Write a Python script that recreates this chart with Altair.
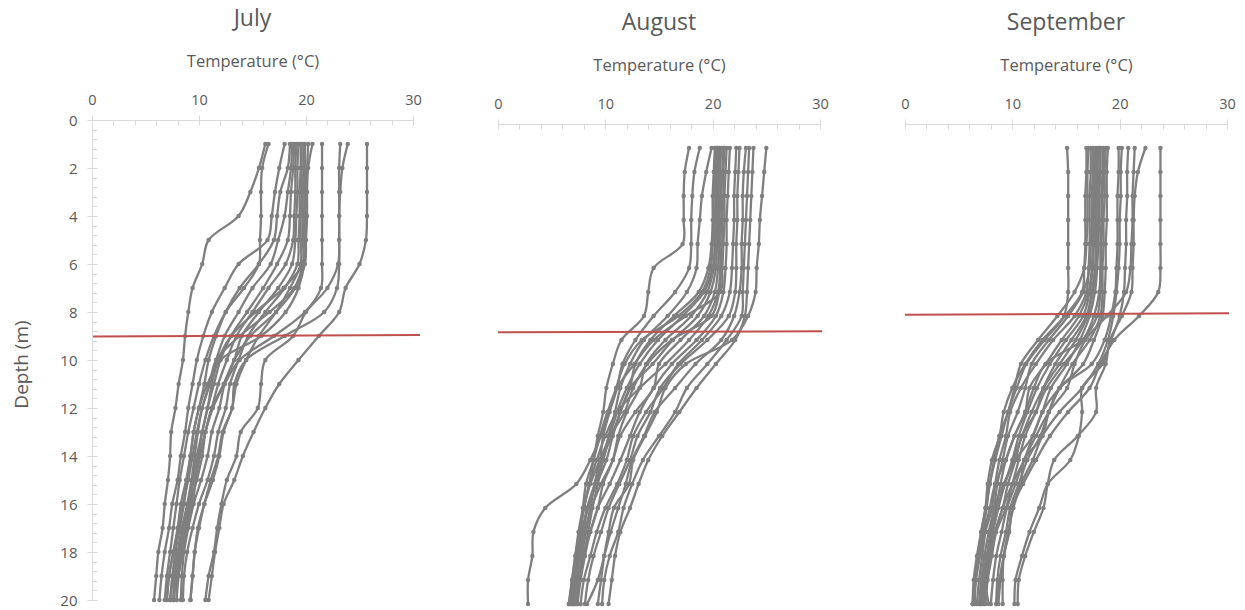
import altair as alt
import pandas as pd

# ---- data -----------------------------------------------------------------
MONTHS = ["July", "August", "September"]
DEPTHS = list(range(1, 21))  # m, one reading per metre

# temperature profiles (deg C) at depths 1..20 m
JULY = [
    [16.2, 15.6, 14.8, 13.7, 10.9, 10.3, 9.4, 9.0, 8.7, 8.5, 8.1, 7.8, 7.4, 7.3, 7.1, 6.8, 6.6, 6.2, 6.0, 5.8],
    [16.5, 15.9, 15.8, 15.8, 15.7, 15.6, 14.2, 12.5, 11.4, 10.6, 10.0, 9.5, 9.0, 8.6, 8.2, 7.9, 7.6, 7.3, 7.0, 6.8],
    [18.0, 17.5, 17.1, 16.8, 16.4, 13.7, 12.4, 11.2, 10.4, 9.8, 9.4, 9.0, 8.7, 8.3, 8.0, 7.5, 7.2, 6.8, 6.5, 6.3],
    [18.5, 18.3, 17.6, 17.3, 17.0, 15.6, 13.8, 12.5, 11.6, 10.9, 10.5, 10.0, 9.5, 9.2, 8.8, 8.3, 8.0, 7.6, 7.2, 7.0],
    [18.7, 18.6, 18.3, 18.0, 17.4, 16.7, 15.0, 13.7, 12.4, 11.6, 11.0, 10.3, 9.9, 9.6, 9.3, 8.9, 8.4, 8.0, 7.6, 7.3],
    [18.9, 18.8, 18.6, 18.5, 18.3, 17.3, 16.0, 14.5, 13.0, 12.0, 11.4, 10.8, 10.3, 9.8, 9.4, 9.2, 8.7, 8.3, 7.9, 7.6],
    [19.1, 19.0, 19.0, 18.9, 18.8, 18.1, 16.5, 15.0, 13.5, 12.6, 11.8, 11.2, 10.6, 10.3, 9.8, 9.2, 8.8, 8.4, 8.0, 7.9],
    [19.3, 19.2, 19.2, 19.1, 19.0, 18.7, 17.4, 15.6, 14.0, 13.3, 12.4, 11.9, 11.2, 10.8, 10.2, 9.5, 9.0, 8.6, 8.4, 8.3],
    [19.5, 19.5, 19.4, 19.4, 19.3, 19.2, 18.0, 16.2, 14.6, 13.7, 12.9, 12.5, 11.8, 11.4, 10.8, 10.0, 9.4, 8.9, 8.6, 8.5],
    [19.6, 19.6, 19.6, 19.5, 19.5, 19.5, 18.5, 17.2, 15.6, 14.4, 13.5, 13.1, 12.3, 11.9, 11.3, 10.5, 9.9, 9.6, 9.4, 9.2],
    [19.8, 19.8, 19.7, 19.7, 19.7, 19.8, 19.3, 18.1, 15.8, 12.0, 10.8, 10.0, 9.5, 9.2, 8.9, 8.6, 8.2, 7.8, 7.5, 7.3],
    [19.9, 19.9, 19.9, 19.8, 19.8, 19.7, 18.9, 16.6, 13.8, 11.6, 11.0, 10.3, 9.8, 9.4, 9.0, 8.5, 8.1, 7.6, 7.2, 7.0],
    [20.2, 20.1, 20.0, 20.0, 19.9, 19.7, 17.9, 15.3, 13.0, 11.8, 11.2, 10.8, 10.3, 9.9, 9.5, 9.1, 8.7, 8.2, 7.9, 7.6],
    [20.6, 20.2, 20.1, 20.1, 20.0, 19.9, 19.0, 17.2, 14.8, 13.3, 12.3, 11.2, 10.6, 10.1, 9.7, 9.4, 8.9, 8.5, 8.1, 7.9],
    [21.5, 21.5, 21.5, 21.5, 21.5, 21.5, 21.4, 19.9, 17.0, 13.8, 12.4, 11.3, 10.6, 10.0, 9.5, 9.0, 8.5, 8.1, 7.7, 7.6],
    [23.2, 23.1, 23.1, 23.1, 23.1, 23.1, 22.9, 21.7, 18.0, 14.4, 13.3, 13.1, 12.2, 11.8, 11.1, 10.5, 10.0, 9.6, 9.4, 9.2],
    [23.9, 23.4, 23.2, 23.1, 23.1, 23.0, 22.0, 20.0, 18.8, 16.2, 15.8, 15.5, 13.9, 13.5, 12.6, 12.1, 11.7, 11.4, 10.9, 10.6],
    [25.7, 25.7, 25.7, 25.7, 25.6, 25.0, 23.7, 23.1, 21.2, 19.3, 17.5, 16.2, 15.1, 14.1, 13.3, 12.3, 11.9, 11.5, 11.2, 10.9],
]

AUGUST = [
    [17.8, 17.4, 17.3, 17.3, 17.2, 14.5, 14.0, 13.6, 11.5, 10.7, 10.1, 9.8, 9.3, 8.9, 8.5, 8.0, 7.6, 7.3, 7.0, 6.8],
    [18.8, 18.3, 18.1, 18.0, 18.0, 17.8, 16.5, 14.5, 12.8, 11.6, 11.1, 10.4, 9.8, 9.5, 9.0, 8.6, 8.1, 7.6, 7.2, 7.0],
    [19.9, 19.4, 19.0, 18.8, 18.6, 18.5, 17.6, 15.8, 13.6, 12.3, 11.4, 10.9, 10.3, 9.8, 9.3, 8.8, 8.4, 8.0, 7.6, 7.3],
    [20.2, 20.1, 20.0, 20.0, 19.9, 19.6, 18.7, 16.4, 14.2, 12.8, 12.3, 11.4, 10.7, 10.1, 9.2, 8.3, 7.9, 7.5, 7.1, 6.9],
    [20.3, 20.2, 20.1, 20.1, 20.0, 19.8, 19.0, 16.8, 13.4, 11.8, 11.0, 10.3, 9.6, 8.6, 7.3, 4.4, 3.3, 3.2, 2.8, 2.8],
    [20.4, 20.3, 20.3, 20.2, 20.2, 20.0, 19.2, 17.2, 14.9, 13.2, 12.0, 11.1, 10.4, 9.5, 8.6, 8.0, 7.6, 7.2, 6.9, 6.6],
    [20.5, 20.5, 20.4, 20.4, 20.3, 20.1, 19.5, 18.0, 15.6, 13.8, 13.2, 12.0, 11.2, 10.7, 9.8, 9.3, 8.6, 7.9, 7.4, 7.1],
    [20.6, 20.6, 20.5, 20.5, 20.4, 20.3, 19.8, 18.6, 16.3, 14.4, 12.3, 11.4, 10.6, 9.6, 9.0, 8.3, 8.0, 7.6, 7.3, 7.0],
    [20.8, 20.7, 20.7, 20.6, 20.6, 20.5, 20.2, 19.2, 17.0, 15.0, 14.5, 12.8, 11.4, 10.7, 9.6, 8.7, 8.2, 7.8, 7.5, 7.2],
    [21.0, 20.9, 20.8, 20.8, 20.7, 20.7, 20.5, 19.6, 17.8, 15.6, 13.2, 11.1, 10.0, 9.2, 8.5, 8.0, 7.7, 7.3, 7.0, 6.7],
    [21.1, 21.0, 21.0, 20.9, 20.9, 20.8, 20.6, 19.9, 16.2, 13.9, 12.6, 11.8, 10.5, 9.8, 9.1, 8.4, 7.8, 7.4, 7.1, 6.9],
    [21.3, 21.2, 21.1, 21.1, 21.0, 20.9, 20.7, 17.5, 14.5, 12.7, 11.1, 10.2, 9.5, 8.9, 8.2, 7.9, 7.5, 7.2, 6.9, 6.6],
    [21.6, 21.5, 21.4, 21.3, 21.3, 21.2, 21.0, 20.3, 18.5, 16.2, 14.5, 13.2, 12.3, 11.4, 10.4, 9.3, 8.6, 8.1, 7.7, 7.4],
    [22.2, 22.1, 22.0, 22.0, 21.9, 21.8, 21.6, 20.8, 19.0, 16.8, 15.4, 13.8, 12.6, 12.0, 11.1, 10.0, 9.2, 8.6, 8.0, 7.7],
    [22.5, 22.4, 22.3, 22.3, 22.2, 22.2, 22.1, 21.5, 19.5, 17.0, 15.1, 14.2, 13.0, 12.3, 11.3, 10.3, 9.6, 8.9, 8.4, 8.1],
    [23.1, 22.9, 22.8, 22.8, 22.7, 22.7, 22.5, 22.0, 20.8, 18.4, 16.5, 14.6, 13.6, 12.5, 11.9, 11.2, 10.5, 9.9, 9.3, 8.3],
    [23.4, 23.3, 23.2, 23.1, 23.0, 22.9, 22.8, 22.7, 21.3, 19.5, 17.6, 16.5, 15.0, 13.5, 12.5, 11.7, 11.2, 10.4, 9.9, 9.7],
    [23.8, 23.7, 23.6, 23.5, 23.4, 23.3, 23.2, 23.0, 22.1, 20.3, 18.5, 16.9, 15.3, 14.0, 13.1, 12.3, 11.4, 10.9, 10.6, 10.3],
    [25.0, 24.8, 24.6, 24.4, 24.3, 24.1, 24.0, 23.3, 21.8, 17.5, 15.6, 14.8, 13.7, 12.6, 12.2, 10.8, 10.3, 9.9, 9.6, 9.3],
]

SEPTEMBER = [
    [15.1, 15.2, 15.2, 15.2, 15.2, 15.2, 15.2, 14.8, 13.0, 11.3, 10.4, 9.6, 9.0, 8.4, 7.9, 7.5, 7.1, 6.8, 6.5, 6.3],
    [16.9, 16.9, 16.8, 16.8, 16.8, 16.7, 16.5, 14.9, 12.8, 11.2, 10.0, 9.2, 8.8, 8.1, 7.7, 7.5, 7.1, 6.7, 6.4, 6.3],
    [17.1, 17.0, 17.0, 17.0, 16.9, 16.7, 15.8, 14.2, 12.4, 10.8, 10.2, 9.6, 8.8, 8.3, 7.9, 7.6, 7.3, 6.9, 6.6, 6.5],
    [17.3, 17.3, 17.2, 17.2, 17.2, 17.1, 16.9, 15.8, 13.8, 12.2, 10.8, 9.8, 9.4, 8.8, 8.4, 8.1, 7.5, 7.2, 6.9, 6.7],
    [17.5, 17.5, 17.4, 17.4, 17.3, 17.2, 16.6, 15.2, 13.4, 11.8, 11.2, 10.5, 9.6, 9.1, 8.6, 8.3, 7.8, 7.4, 7.1, 6.9],
    [17.6, 17.6, 17.6, 17.5, 17.5, 17.4, 17.1, 16.2, 14.6, 13.1, 11.6, 11.2, 10.2, 9.4, 8.9, 8.5, 8.0, 7.6, 7.2, 7.0],
    [17.8, 17.8, 17.7, 17.7, 17.6, 17.5, 17.2, 16.6, 15.0, 13.5, 12.3, 11.4, 10.6, 10.0, 9.3, 8.7, 8.2, 7.8, 7.4, 7.1],
    [18.0, 17.9, 17.9, 17.8, 17.8, 17.7, 17.4, 16.9, 15.5, 14.0, 12.9, 12.2, 10.9, 10.3, 9.6, 9.1, 8.4, 7.9, 7.5, 7.3],
    [18.1, 18.1, 18.0, 18.0, 17.9, 17.8, 17.5, 17.0, 15.9, 14.4, 12.9, 11.8, 10.9, 10.1, 9.3, 8.6, 8.1, 7.7, 7.3, 7.1],
    [18.2, 18.2, 18.1, 18.1, 18.0, 17.9, 17.7, 17.2, 16.3, 15.1, 13.6, 12.8, 11.9, 11.1, 10.0, 9.1, 8.4, 8.0, 7.6, 7.4],
    [18.4, 18.4, 18.3, 18.3, 18.2, 18.2, 18.1, 17.6, 16.6, 14.8, 13.2, 12.2, 11.2, 10.6, 10.0, 9.4, 8.5, 8.1, 7.7, 7.5],
    [18.5, 18.5, 18.4, 18.4, 18.3, 18.3, 18.2, 17.9, 16.5, 13.1, 12.0, 11.2, 10.2, 9.4, 8.4, 7.9, 7.4, 7.0, 6.6, 6.4],
    [18.7, 18.6, 18.6, 18.5, 18.5, 18.4, 18.4, 18.2, 17.2, 15.6, 14.4, 13.4, 12.8, 11.1, 10.8, 10.0, 9.7, 9.2, 9.1, 9.1],
    [18.9, 18.8, 18.8, 18.8, 18.7, 18.7, 18.6, 18.4, 17.6, 16.6, 14.4, 12.8, 11.9, 10.3, 9.2, 8.3, 8.0, 7.8, 7.5, 7.8],
    [19.9, 19.9, 19.8, 19.8, 19.8, 19.7, 19.6, 19.2, 18.6, 17.4, 14.4, 13.4, 12.6, 11.4, 10.6, 9.8, 9.4, 8.9, 8.6, 8.5],
    [20.2, 20.1, 20.1, 20.0, 20.0, 19.9, 19.7, 19.4, 18.9, 18.0, 16.5, 14.4, 12.8, 11.9, 10.8, 10.1, 9.6, 9.2, 8.9, 8.7],
    [20.8, 20.7, 20.7, 20.6, 20.6, 20.5, 20.4, 20.0, 19.2, 18.4, 16.5, 16.5, 16.2, 15.4, 13.3, 12.5, 11.6, 10.9, 10.3, 10.2],
    [21.4, 21.3, 21.2, 21.2, 21.1, 21.0, 20.6, 18.8, 16.8, 15.8, 15.1, 13.4, 12.2, 11.1, 10.3, 9.5, 9.0, 8.5, 8.2, 8.0],
    [22.4, 21.7, 21.4, 21.3, 21.3, 21.2, 21.1, 20.2, 19.1, 18.7, 17.8, 17.8, 16.1, 13.9, 13.3, 12.9, 12.0, 11.2, 10.6, 10.5],
    [23.8, 23.8, 23.8, 23.8, 23.8, 23.8, 23.6, 21.8, 19.5, 18.2, 17.2, 15.2, 13.5, 12.2, 11.0, 10.0, 9.7, 9.2, 8.8, 8.5],
]

# thermocline marker: depth (m) at its left and right ends, and its temperature span
THERMO_DEPTH_START = [9.02, 8.68, 7.95]
THERMO_DEPTH_END = [8.96, 8.64, 7.89]
THERMO_T_START = [0.1, 0.0, 0.0]
THERMO_T_END = [30.65, 30.2, 30.2]

# ---- styling ----------------------------------------------------------------
FONT = "Open Sans"
TEXT = "#595959"
AXIS_GREY = "#d9d9d9"
LINE_GREY = "#7f7f7f"
RED = "#c0504d"

X_MAJOR = [0, 10, 20, 30]
X_MINOR = list(range(0, 31, 2))
Y_MAJOR = list(range(0, 21, 2))
Y_MINOR = [round(i * 0.4, 1) for i in range(51)]

PANEL_W = [321, 322, 322]
PANEL_H = 480
PX_PER_M = PANEL_H / 20


def panel(idx, month, profiles):
    rows = []
    for p, temps in enumerate(profiles):
        for d, t in zip(DEPTHS, temps):
            rows.append({"profile": p, "depth": d, "temp": t})
    df = pd.DataFrame(rows)

    first = idx == 0
    drop = 0 if first else 4  # later panels sit a few pixels lower
    d0 = -drop / PX_PER_M
    xscale = alt.Scale(domain=[0, 30], nice=False, zero=False)
    yscale = alt.Scale(domain=[d0, d0 + 20], reverse=True, nice=False, zero=False)

    x_major = alt.Axis(
        orient="top", values=X_MAJOR, tickSize=5, labelPadding=11,
        labelBaseline="alphabetic", labelFlush=False, labelFontSize=14.5,
        labelColor=TEXT, labelFont=FONT, domainColor=AXIS_GREY,
        tickColor=AXIS_GREY, grid=False, offset=-drop,
        title="Temperature (°C)", titleFont=FONT, titleFontSize=16.5,
        titleFontWeight="normal", titleColor=TEXT, titleBaseline="alphabetic",
        titleY=-54, titleX=PANEL_W[idx] / 2, titleAlign="center",
    )
    x_minor = alt.Axis(
        orient="top", values=X_MINOR, tickSize=5, labels=False, domain=False,
        tickColor=AXIS_GREY, grid=False, offset=-drop - 5, title=None,
    )
    if first:
        y_major = alt.Axis(
            orient="left", values=Y_MAJOR, tickSize=5, labelPadding=10,
            labelFontSize=15, labelColor=TEXT, labelFont=FONT,
            domainColor=AXIS_GREY, tickColor=AXIS_GREY, grid=False,
            title="Depth (m)", titleFont=FONT, titleFontSize=19,
            titleFontWeight="normal", titleColor=TEXT, titleAngle=270,
            titleX=-71, titleY=PANEL_H / 2 + 4, titleAlign="center",
            titleBaseline="middle",
        )
        y_minor = alt.Axis(
            orient="left", values=Y_MINOR, tickSize=5, labels=False,
            domain=False, tickColor=AXIS_GREY, grid=False, offset=-5,
            title=None,
        )
    else:
        y_major = None
        y_minor = None

    profiles_layer = alt.Chart(df).mark_line(
        interpolate="catmull-rom", strokeWidth=2.3, color=LINE_GREY,
        point=alt.OverlayMarkDef(filled=True, size=20, color=LINE_GREY, opacity=1),
    ).encode(
        x=alt.X("temp:Q", scale=xscale, axis=x_major),
        y=alt.Y("depth:Q", scale=yscale, axis=y_major),
        detail="profile:N",
        order=alt.Order("depth:Q"),
    )

    thermo = pd.DataFrame({
        "t0": [THERMO_T_START[idx]], "t1": [THERMO_T_END[idx]],
        "d0": [THERMO_DEPTH_START[idx]], "d1": [THERMO_DEPTH_END[idx]],
    })
    thermo_layer = alt.Chart(thermo).mark_rule(color=RED, strokeWidth=2).encode(
        x=alt.X("t0:Q", scale=xscale, axis=x_minor),
        x2="t1:Q",
        y=alt.Y("d0:Q", scale=yscale, axis=y_minor),
        y2="d1:Q",
    )

    return alt.layer(profiles_layer, thermo_layer).resolve_axis(
        x="independent", y="independent"
    ).properties(
        width=PANEL_W[idx], height=PANEL_H,
        title=alt.TitleParams(
            text=month, font=FONT, fontSize=23, fontWeight="normal",
            color=TEXT, anchor="middle", baseline="alphabetic", offset=4,
        ),
    )


panels = [panel(i, m, p) for i, (m, p) in enumerate(zip(MONTHS, [JULY, AUGUST, SEPTEMBER]))]

chart = alt.hconcat(*panels, spacing=85, bounds="flush").properties(
    padding={"left": 12, "top": 8, "right": 5, "bottom": 2},
    background="white",
).configure_view(stroke=None)

chart.save("out.html", embed_options={"renderer": "svg", "actions": False})
